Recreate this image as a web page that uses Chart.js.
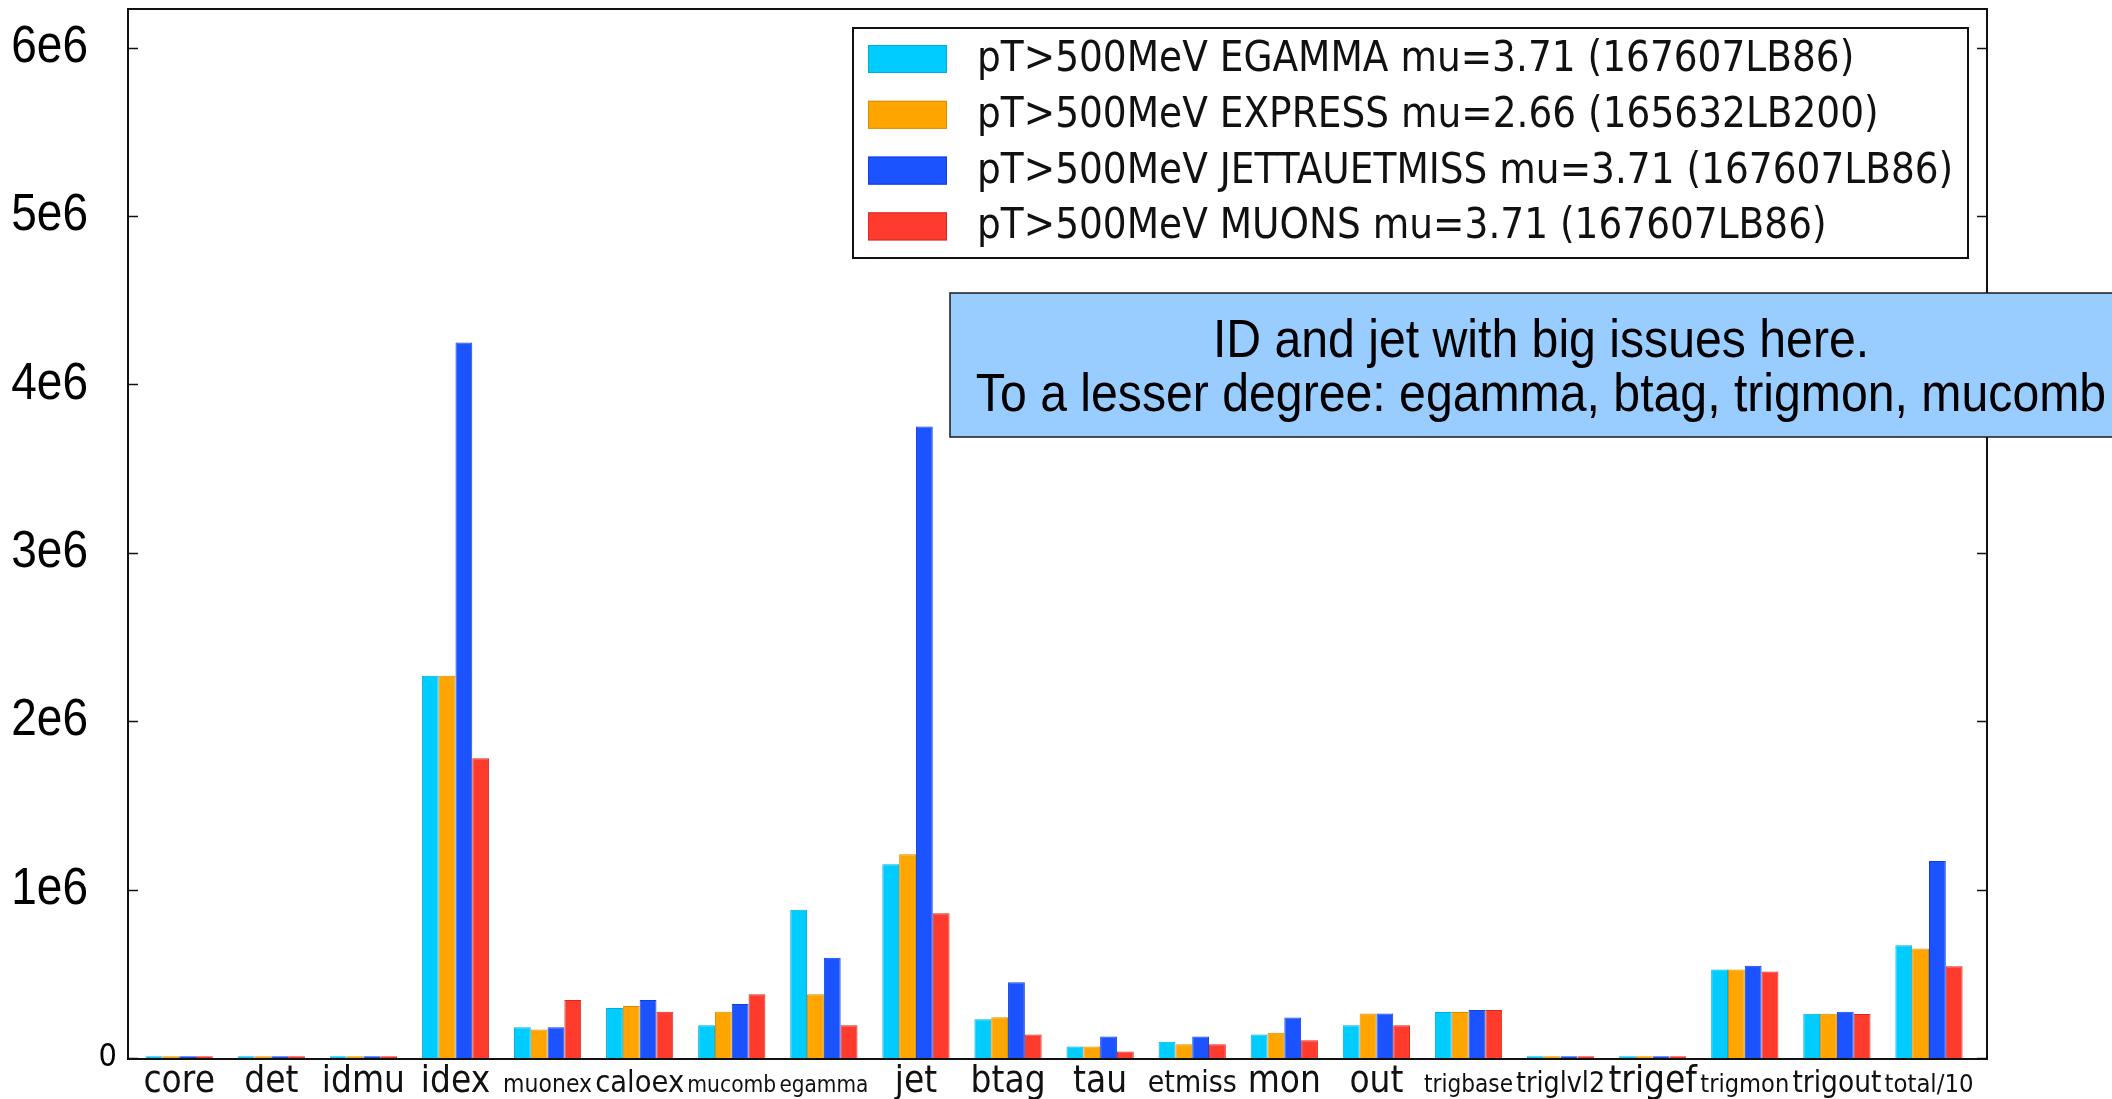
<!DOCTYPE html>
<html>
<head>
<meta charset="utf-8">
<script src="https://cdn.jsdelivr.net/npm/chart.js@4.4.1/dist/chart.umd.min.js"></script>
<style>
  html, body { margin: 0; padding: 0; background: #ffffff; }
  canvas { display: block; }
</style>
</head>
<body>
<canvas id="chart" width="2112" height="1099"></canvas>
<script>
// Categories along the x axis
const categories = ['core', 'det', 'idmu', 'idex', 'muonex', 'caloex', 'mucomb', 'egamma', 'jet', 'btag',
                    'tau', 'etmiss', 'mon', 'out', 'trigbase', 'triglvl2', 'trigef', 'trigmon', 'trigout', 'total/10'];

// Y axis ticks and their labels
const yTicks = [0, 1e6, 2e6, 3e6, 4e6, 5e6, 6e6];
const yTickLabels = ['0', '1e6', '2e6', '3e6', '4e6', '5e6', '6e6'];

// Series names
const seriesLabels = [
  'pT>500MeV EGAMMA mu=3.71 (167607LB86)',
  'pT>500MeV EXPRESS mu=2.66 (165632LB200)',
  'pT>500MeV JETTAUETMISS mu=3.71 (167607LB86)',
  'pT>500MeV MUONS mu=3.71 (167607LB86)'
];

// Series values, one per category
const egamma       = [1.1e4, 1.1e4, 1.1e4, 2.27e6, 0.182e6, 0.297e6, 0.194e6, 0.88e6, 1.15e6, 0.230e6,
                      0.069e6, 0.097e6, 0.139e6, 0.194e6, 0.273e6, 1.1e4, 1.1e4, 0.525e6, 0.263e6, 0.670e6];
const express      = [1.1e4, 1.1e4, 1.1e4, 2.27e6, 0.170e6, 0.309e6, 0.275e6, 0.378e6, 1.21e6, 0.242e6,
                      0.069e6, 0.081e6, 0.150e6, 0.265e6, 0.273e6, 1.1e4, 1.1e4, 0.525e6, 0.263e6, 0.650e6];
const jettauetmiss = [1.1e4, 1.1e4, 1.1e4, 4.25e6, 0.182e6, 0.345e6, 0.320e6, 0.595e6, 3.75e6, 0.450e6,
                      0.127e6, 0.127e6, 0.240e6, 0.265e6, 0.285e6, 1.1e4, 1.1e4, 0.548e6, 0.275e6, 1.17e6];
const muons        = [1.1e4, 1.1e4, 1.1e4, 1.78e6, 0.345e6, 0.275e6, 0.378e6, 0.194e6, 0.86e6, 0.139e6,
                      0.038e6, 0.081e6, 0.105e6, 0.194e6, 0.285e6, 1.1e4, 1.1e4, 0.513e6, 0.262e6, 0.545e6];

// Comment box text
const noteLines = ['ID and jet with big issues here.', 'To a lesser degree: egamma, btag, trigmon, mucomb'];

const seriesValues = [egamma, express, jettauetmiss, muons];
const fillColors = ['#00ccff', '#ffa500', '#1a53ff', '#ff3b2e'];
const edgeColors = ['#00acd8', '#d98d00', '#1240d8', '#d62a20'];

const TEXT_STRETCH = 1.12;   // text is drawn slightly tall

function tallText(ctx, text, x, y, font, align, baseline, color) {
  ctx.save();
  ctx.translate(x, y);
  ctx.scale(1, TEXT_STRETCH);
  ctx.font = font;
  ctx.textAlign = align;
  ctx.textBaseline = baseline;
  ctx.fillStyle = color || '#000000';
  ctx.fillText(text, 0, 0);
  ctx.restore();
}

// Frame, inward tick marks and axis labels
const framePlugin = {
  id: 'frameAndLabels',
  afterDatasetsDraw(chart) {
    const { ctx, chartArea: a, scales } = chart;
    const xs = scales.x, ys = scales.y;
    ctx.save();
    ctx.strokeStyle = '#111111';
    ctx.lineWidth = 2;
    ctx.strokeRect(a.left, a.top, a.right - a.left, a.bottom - a.top + 1);

    ctx.lineWidth = 1.5;
    yTicks.forEach((v) => {
      const py = Math.round(ys.getPixelForValue(v)) + 0.5;
      ctx.beginPath();
      ctx.moveTo(a.left, py); ctx.lineTo(a.left + 10, py);
      ctx.moveTo(a.right, py); ctx.lineTo(a.right - 10, py);
      ctx.stroke();
    });

    yTicks.forEach((v, i) => {
      const py = ys.getPixelForValue(v);
      if (v === 0) {
        tallText(ctx, yTickLabels[i], a.left - 11, py, '29px "DejaVu Sans"', 'right', 'middle');
      } else {
        tallText(ctx, yTickLabels[i], a.left - 40, py, '46px "Liberation Sans"', 'right', 'middle');
      }
    });

    // category labels shrink to fit their slot
    const baseSize = 33, maxWidth = 89;
    categories.forEach((c, i) => {
      const px = xs.getPixelForValue(i);
      ctx.font = baseSize + 'px "DejaVu Sans"';
      const w = ctx.measureText(c).width;
      const size = w > maxWidth ? baseSize * maxWidth / w : baseSize;
      tallText(ctx, c, px, a.bottom + 34, size.toFixed(2) + 'px "DejaVu Sans"', 'center', 'alphabetic', '#111111');
    });
    ctx.restore();
  },
  afterDraw(chart) {
    const { ctx } = chart;
    ctx.save();

    // legend
    const lx = 853, ly = 28, lw = 1115, lh = 230;
    ctx.fillStyle = '#ffffff';
    ctx.fillRect(lx, ly, lw, lh);
    ctx.strokeStyle = '#111111';
    ctx.lineWidth = 2;
    ctx.strokeRect(lx, ly, lw, lh);
    seriesLabels.forEach((label, i) => {
      const cy = 59 + i * 55.8;
      ctx.fillStyle = fillColors[i];
      ctx.fillRect(868, cy - 14, 79, 28);
      ctx.strokeStyle = edgeColors[i];
      ctx.lineWidth = 1;
      ctx.strokeRect(868.5, cy - 13.5, 78, 27);
      tallText(ctx, label, 977, cy + 1, '37.5px "DejaVu Sans"', 'left', 'middle', '#111111');
    });

    // comment box
    ctx.fillStyle = '#99ccff';
    ctx.fillRect(950, 293, 1200, 144);
    ctx.strokeStyle = '#1a1a1a';
    ctx.lineWidth = 1.5;
    ctx.strokeRect(950, 293, 1200, 144);
    tallText(ctx, noteLines[0], 1541, 342, '48.2px "Liberation Sans"', 'center', 'middle');
    tallText(ctx, noteLines[1], 1541, 396, '48.2px "Liberation Sans"', 'center', 'middle');

    ctx.restore();
  }
};

const datasets = seriesValues.map((vals, i) => ({
  label: seriesLabels[i],
  data: vals.map((v, j) => ({ x: j, y: v })),
  backgroundColor: fillColors[i],
  borderColor: edgeColors[i],
  borderWidth: 1,
  categoryPercentage: 0.73,
  barPercentage: 1.0
}));

new Chart(document.getElementById('chart'), {
  type: 'bar',
  data: { datasets },
  options: {
    responsive: false,
    animation: false,
    devicePixelRatio: 1,
    layout: { padding: { top: 9, right: 125, left: 0, bottom: 0 } },
    plugins: { legend: { display: false }, tooltip: { enabled: false } },
    scales: {
      x: {
        type: 'linear',
        min: -0.556,
        max: 19.63,
        offset: false,
        grid: { display: false, drawTicks: false },
        border: { display: false },
        ticks: { display: false },
        afterFit: (s) => { s.height = 41; }
      },
      y: {
        min: 0,
        max: 6.23e6,
        grid: { display: false, drawTicks: false },
        border: { display: false },
        ticks: { display: false },
        afterFit: (s) => { s.width = 128; }
      }
    }
  },
  plugins: [framePlugin]
});
</script>
</body>
</html>
